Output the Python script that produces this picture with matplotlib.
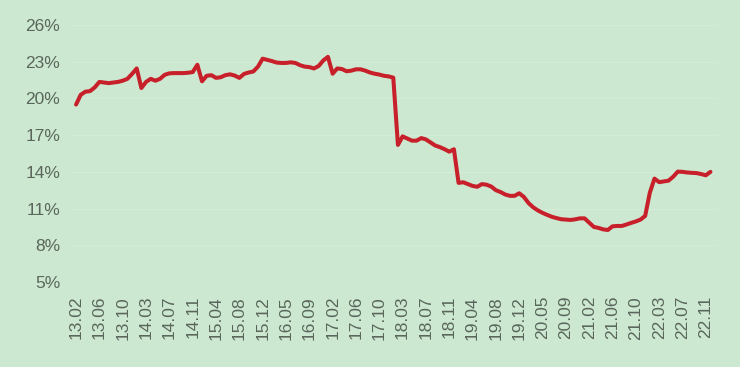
import matplotlib
matplotlib.use("Agg")
import matplotlib.pyplot as plt
import numpy as np

# Tick labels (year.month), one every 5 observations
tick_labels = ["13.02", "13.06", "13.10", "14.03", "14.07", "14.11", "15.04", "15.08",
               "15.12", "16.05", "16.09", "17.02", "17.06", "17.10", "18.03", "18.07",
               "18.11", "19.04", "19.08", "19.12", "20.05", "20.09", "21.02", "21.06",
               "21.10", "22.03", "22.07", "22.11"]
obs_per_tick = 5

# Series values (%)
values = [19.5, 20.3, 20.55, 20.6, 20.9, 21.35, 21.3, 21.25, 21.3, 21.35,
          21.45, 21.6, 22.0, 22.45, 20.85, 21.35, 21.6, 21.45, 21.6, 21.93,
          22.05, 22.07, 22.07, 22.07, 22.1, 22.15, 22.75, 21.4, 21.85, 21.9,
          21.68, 21.73, 21.9, 21.97, 21.87, 21.68, 22.0, 22.12, 22.2, 22.6,
          23.25, 23.15, 23.05, 22.93, 22.9, 22.9, 22.95, 22.9, 22.72, 22.6,
          22.56, 22.45, 22.65, 23.1, 23.4, 22.02, 22.45, 22.4, 22.22, 22.27,
          22.38, 22.38, 22.27, 22.12, 22.02, 21.95, 21.85, 21.8, 21.7, 16.2,
          16.9, 16.72, 16.55, 16.55, 16.76, 16.65, 16.4, 16.15, 16.02, 15.85,
          15.65, 15.85, 13.1, 13.15, 13.0, 12.85, 12.78, 13.0, 12.95, 12.8,
          12.5, 12.35, 12.15, 12.04, 12.04, 12.25, 11.95, 11.45, 11.1, 10.85,
          10.65, 10.48, 10.33, 10.22, 10.13, 10.1, 10.07, 10.12, 10.2, 10.2,
          9.85, 9.5, 9.42, 9.3, 9.25, 9.55, 9.58, 9.58, 9.7, 9.83,
          9.95, 10.1, 10.4, 12.3, 13.45, 13.16, 13.22, 13.28, 13.6, 14.02,
          14.0, 13.95, 13.92, 13.9, 13.82, 13.72, 14.0]

y_ticks = [5, 8, 11, 14, 17, 20, 23, 26]

bg = "#cce8d0"
text_color = "#5a665c"
line_color = "#c8202a"

plt.rcParams["font.family"] = ["Liberation Sans", "DejaVu Sans"]

fig = plt.figure(figsize=(7.4, 3.67), dpi=100)
fig.patch.set_facecolor(bg)
ax = fig.add_axes([70 / 740, 1 - 282 / 367, (717 - 70) / 740, (282 - 25) / 367])
ax.set_facecolor(bg)

x = np.arange(len(values))
ax.plot(x, values, color=line_color, lw=2.9, solid_joinstyle="round", solid_capstyle="round", zorder=3)

ax.set_ylim(5, 26)
ax.set_xlim(-1.3, 137.4)
ax.set_yticks(y_ticks)
ax.set_yticklabels([f"{v}%" for v in y_ticks])
ax.set_xticks(np.arange(len(tick_labels)) * obs_per_tick)
ax.set_xticklabels(tick_labels, rotation=90)

ax.grid(axis="y", color="#d4ecd7", lw=1.0, zorder=1)
ax.grid(axis="x", visible=False)
for s in ax.spines.values():
    s.set_visible(False)
ax.tick_params(axis="both", length=0, colors=text_color, labelsize=12.5)
ax.tick_params(axis="y", pad=7)
ax.tick_params(axis="x", pad=10)

fig.savefig("out.png", dpi=100, facecolor=bg)
